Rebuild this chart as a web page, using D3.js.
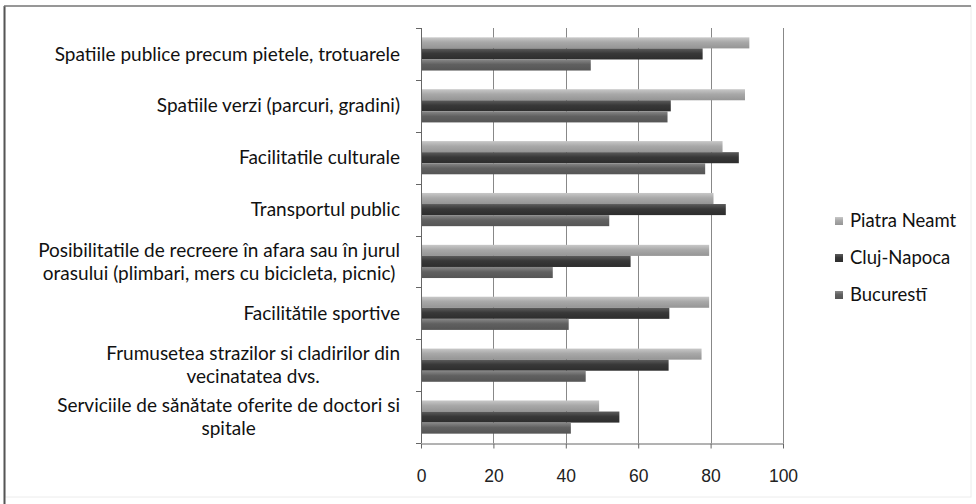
<!DOCTYPE html>
<html>
<head>
<meta charset="utf-8">
<script src="https://cdn.jsdelivr.net/npm/d3@7"></script>
<style>
  body { margin: 0; background: #fff; }
  svg { display: block; font-family: Lato, "Open Sans", sans-serif; }
</style>
</head>
<body>
<svg id="chart" width="976" height="504"></svg>
<script>
const categories = [
  ["Spatiile publice precum pietele, trotuarele"],
  ["Spatiile verzi (parcuri, gradini)"],
  ["Facilitatile culturale"],
  ["Transportul public"],
  ["Posibilitatile de recreere în afara sau în jurul", "orasului (plimbari, mers cu bicicleta, picnic)"],
  ["Facilitătile sportive"],
  ["Frumusetea strazilor si cladirilor din", "vecinatatea dvs."],
  ["Serviciile de sănătate oferite de doctori si", "spitale"]
];
const seriesNames = ["Piatra Neamt", "Cluj-Napoca", "Bucurestī"];
const piatra    = [90.7, 89.5, 83.3, 80.8, 79.6, 79.6, 77.5, 49.2];
const cluj      = [77.8, 69.0, 87.8, 84.2, 57.9, 68.6, 68.4, 54.8];
const bucuresti = [46.9, 68.1, 78.5, 52.0, 36.4, 40.8, 45.5, 41.4];
const xTicks = [0, 20, 40, 60, 80, 100];

const svg = d3.select("#chart");
const plotLeft = 421, plotRight = 783, plotTop = 28, plotBottom = 443;

const x = d3.scaleLinear().domain([0, 100]).range([plotLeft, plotRight]);
const y = d3.scaleBand().domain(d3.range(categories.length)).range([plotTop, plotBottom]).paddingInner(0.36).paddingOuter(0.18);
const ySub = d3.scaleBand().domain(d3.range(3)).range([0, y.bandwidth()]);

// gradients like the office bars
const grads = [
  ["#c8c8c8", "#a8a8a8", "#959595"],
  ["#5c5c5c", "#383838", "#2d2d2d"],
  ["#888888", "#606060", "#555555"]
];
const defs = svg.append("defs");
grads.forEach((c, i) => {
  const lg = defs.append("linearGradient").attr("id", "g" + i)
    .attr("x1", 0).attr("y1", 0).attr("x2", 0).attr("y2", 1);
  lg.append("stop").attr("offset", "0%").attr("stop-color", c[0]);
  lg.append("stop").attr("offset", "45%").attr("stop-color", c[1]);
  lg.append("stop").attr("offset", "100%").attr("stop-color", c[2]);
});

// frame
svg.append("rect").attr("x", 5).attr("y", 6).attr("width", 966).attr("height", 491)
  .attr("fill", "none").attr("stroke", "#ececec").attr("stroke-width", 1);
svg.append("line").attr("x1", 4.5).attr("x2", 4.5).attr("y1", 6).attr("y2", 504)
  .attr("stroke", "#555").attr("stroke-width", 2);
svg.append("line").attr("x1", 4).attr("x2", 971).attr("y1", 6).attr("y2", 6)
  .attr("stroke", "#777").attr("stroke-width", 1.5);

// gridlines
svg.append("g")
  .selectAll("line")
  .data(xTicks.slice(1))
  .join("line")
  .attr("x1", d => Math.round(x(d)) + 0.5).attr("x2", d => Math.round(x(d)) + 0.5)
  .attr("y1", plotTop).attr("y2", plotBottom)
  .attr("stroke", "#888");

// bars
const rows = categories.map((c, i) => [piatra[i], cluj[i], bucuresti[i]]);
const grp = svg.append("g").selectAll("g")
  .data(rows)
  .join("g")
  .attr("transform", (d, i) => `translate(0,${y(i)})`);
grp.selectAll("rect")
  .data(d => d)
  .join("rect")
  .attr("x", x(0))
  .attr("y", (d, j) => ySub(j))
  .attr("width", d => x(d) - x(0))
  .attr("height", ySub.bandwidth())
  .attr("fill", (d, j) => `url(#g${j})`);

// x axis
const xAxis = svg.append("g")
  .attr("transform", `translate(0,${plotBottom + 0.5})`)
  .call(d3.axisBottom(x).tickValues(xTicks).tickSize(5).tickPadding(21).tickSizeOuter(0));
xAxis.select(".domain").attr("stroke", "#666");
xAxis.selectAll(".tick line").attr("stroke", "#666");
xAxis.selectAll("text").attr("font-size", "17.5px").attr("fill", "#222");

// y axis: category boundary ticks
svg.append("line").attr("x1", plotLeft + 0.5).attr("x2", plotLeft + 0.5).attr("y1", plotTop).attr("y2", plotBottom)
  .attr("stroke", "#666");
const step = (plotBottom - plotTop) / categories.length;
svg.append("g").selectAll("line")
  .data(d3.range(categories.length + 1))
  .join("line")
  .attr("x1", plotLeft - 5).attr("x2", plotLeft)
  .attr("y1", d => Math.round(plotTop + d * step) + 0.5).attr("y2", d => Math.round(plotTop + d * step) + 0.5)
  .attr("stroke", "#666");

// category labels, wrapped lines centered within a right aligned block
const labelRight = 400;
const lineH = 23;
categories.forEach((lines, i) => {
  const cy = y(i) + y.bandwidth() / 2;
  const g = svg.append("g");
  const texts = lines.map((t, k) => g.append("text")
    .attr("font-size", "19px")
    .attr("fill", "#111")
    .attr("y", cy + (k - (lines.length - 1) / 2) * lineH)
    .attr("dy", "0.35em")
    .attr("text-anchor", "middle")
    .text(t));
  const w = d3.max(texts, t => t.node().getComputedTextLength());
  texts.forEach(t => t.attr("x", labelRight - w / 2));
});

// legend
const legend = svg.append("g").selectAll("g")
  .data(seriesNames)
  .join("g")
  .attr("transform", (d, i) => `translate(835,${221 + i * 37})`);
legend.append("rect")
  .attr("x", 0).attr("y", -4).attr("width", 8).attr("height", 8)
  .attr("fill", (d, i) => `url(#g${i})`);
legend.append("text")
  .attr("x", 15)
  .attr("dy", "0.35em")
  .attr("font-size", "18.5px")
  .attr("fill", "#111")
  .text(d => d);
</script>
</body>
</html>
